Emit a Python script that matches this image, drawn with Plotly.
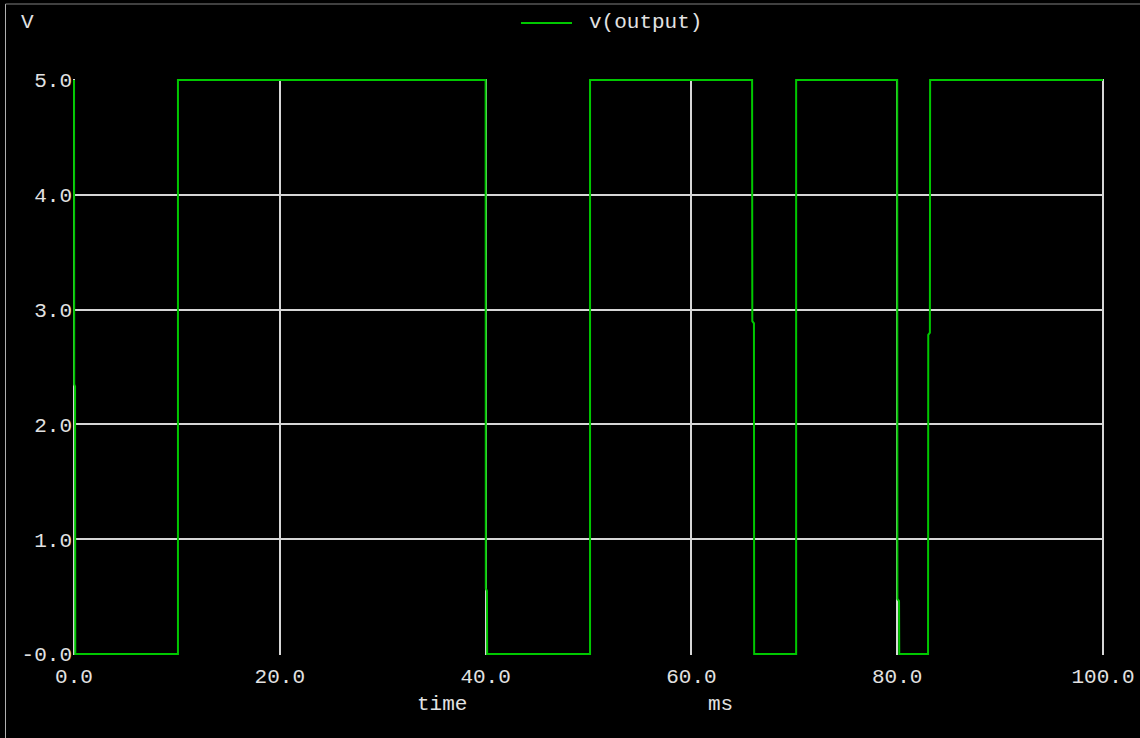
import plotly.graph_objects as go

# ---- data ----
time_ms = [0.0, 0.02, 0.10, 0.12, 10.1, 10.1,
           40.0, 40.02, 40.13, 40.15, 50.15, 50.15,
           65.9, 65.92, 66.08, 66.1, 70.18, 70.18,
           80.0, 80.02, 80.18, 80.2,
           83.0, 83.02, 83.18, 83.2, 100.0]
v_output = [5.0, 2.35, 2.33, 0.0, 0.0, 5.0,
            5.0, 0.57, 0.55, 0.0, 0.0, 5.0,
            5.0, 2.9, 2.88, 0.0, 0.0, 5.0,
            5.0, 0.48, 0.46, 0.0,
            0.0, 2.78, 2.8, 5.0, 5.0]

x_tickvals = [0, 20, 40, 60, 80, 100]
x_ticktext = ["0.0", "20.0", "40.0", "60.0", "80.0", "100.0"]
y_tickvals = [0, 1, 2, 3, 4, 5]
y_ticktext = ["-0.0", "1.0", "2.0", "3.0", "4.0", "5.0"]

# ---- layout geometry ----
W, H = 1140, 738
ML, MR, MT, MB = 73, 36, 79, 83
PW, PH = W - ML - MR, H - MT - MB

def px(xp):
    return (xp - ML) / PW

def py(yp):
    return (H - MB - yp) / PH

FONT = "Liberation Mono"
TXT = "#e2e2e2"
GRID = "#d6d6d6"
GREEN = "#00c800"

fig = go.Figure()
fig.add_trace(go.Scatter(
    x=time_ms, y=v_output, mode="lines", name="v(output)",
    line=dict(color=GREEN, width=2), showlegend=False,
))

fig.update_layout(
    width=W, height=H,
    margin=dict(l=ML, r=MR, t=MT, b=MB, pad=0, autoexpand=False),
    paper_bgcolor="black", plot_bgcolor="black",
    font=dict(family=FONT, size=21, color=TXT),
    xaxis=dict(
        range=[-0.1, 100.1], tickvals=x_tickvals, ticktext=x_ticktext,
        showgrid=True, gridcolor=GRID, gridwidth=2, zeroline=False,
        showline=False, ticks="outside", ticklen=2, tickcolor="black",
        automargin=False, ticklabeloverflow="allow",
        tickfont=dict(family=FONT, size=21, color=TXT), layer="below traces",
    ),
    yaxis=dict(
        range=[-0.0087, 5.0087], tickvals=y_tickvals, ticktext=y_ticktext,
        showgrid=True, gridcolor=GRID, gridwidth=2, zeroline=False,
        showline=False, ticks="", ticklabelstandoff=0, automargin=False,
        tickfont=dict(family=FONT, size=21, color=TXT), layer="below traces",
    ),
    shapes=[
        # legend sample line
        dict(type="line", xref="paper", yref="paper",
             x0=px(521), x1=px(572), y0=py(23), y1=py(23),
             line=dict(color=GREEN, width=2)),
        # window frame lines
        dict(type="line", xref="paper", yref="paper",
             x0=px(5.5), x1=px(5.5), y0=py(4), y1=py(738),
             line=dict(color="#b0b0b0", width=1)),
        dict(type="line", xref="paper", yref="paper",
             x0=px(5.5), x1=px(1140), y0=py(4), y1=py(4),
             line=dict(color="#808080", width=1)),
    ],
    annotations=[
        dict(text="v(output)", xref="paper", yref="paper", x=px(587), y=py(23),
             xanchor="left", yanchor="middle", showarrow=False,
             font=dict(family=FONT, size=21, color=TXT)),
        dict(text="V", xref="paper", yref="paper", x=px(28), y=py(22),
             xanchor="center", yanchor="middle", showarrow=False,
             font=dict(family=FONT, size=21, color=TXT)),
        dict(text="time", xref="paper", yref="paper", x=px(442), y=py(704),
             xanchor="center", yanchor="middle", showarrow=False,
             font=dict(family=FONT, size=21, color=TXT)),
        dict(text="ms", xref="paper", yref="paper", x=px(720), y=py(704),
             xanchor="center", yanchor="middle", showarrow=False,
             font=dict(family=FONT, size=21, color=TXT)),
    ],
)

fig.write_html(
    "out.html",
    config={"displayModeBar": False},
    post_script="document.body.style.margin='0';document.body.style.overflow='hidden';",
)
